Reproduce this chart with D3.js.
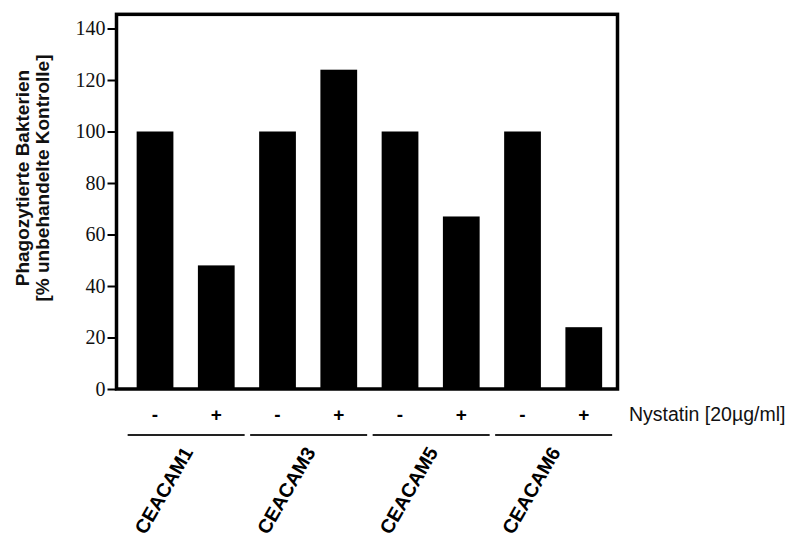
<!DOCTYPE html>
<html>
<head>
<meta charset="utf-8">
<script src="https://cdn.jsdelivr.net/npm/d3@7"></script>
<style>
  body { margin: 0; background: #fff; }
  svg { display: block; }
</style>
</head>
<body>
<div id="chart"></div>
<script>
// data
const groups = ["CEACAM1", "CEACAM3", "CEACAM5", "CEACAM6"];
const treatments = ["-", "+"];
const values = [100, 48, 100, 124, 100, 67, 100, 24];
const yTicks = [0, 20, 40, 60, 80, 100, 120, 140];
const treatmentLabel = "Nystatin [20µg/ml]";
const yLabelLines = ["Phagozytierte Bakterien", "[% unbehandelte Kontrolle]"];

const W = 792, H = 539;
const SANS = "'Liberation Sans', Arial, sans-serif";
const SERIF = "'Liberation Serif', 'Times New Roman', serif";

const bars = [];
groups.forEach((g, gi) => {
  treatments.forEach((t, ti) => {
    bars.push({ key: g + t, group: g, treat: t, value: values[gi * 2 + ti] });
  });
});

const svg = d3.select("#chart").append("svg")
  .attr("width", W)
  .attr("height", H);

const x = d3.scaleBand()
  .domain(bars.map(d => d.key))
  .range([124.4, 614.4])
  .paddingInner(0.4)
  .paddingOuter(0.2);

const y = d3.scaleLinear()
  .domain([0, 140])
  .range([389, 28.5]);

const frameLeft = 116.5, frameRight = 617.5;
const frameTop = y(145.5);

// bars
svg.append("g")
  .selectAll("rect")
  .data(bars)
  .join("rect")
  .attr("x", d => x(d.key))
  .attr("y", d => y(d.value))
  .attr("width", x.bandwidth())
  .attr("height", d => y(0) - y(d.value))
  .attr("fill", "#000");

// frame
svg.append("rect")
  .attr("x", frameLeft)
  .attr("y", frameTop)
  .attr("width", frameRight - frameLeft)
  .attr("height", y(0) - frameTop)
  .attr("fill", "none")
  .attr("stroke", "#000")
  .attr("stroke-width", 3.5);

// y axis
const yAxis = svg.append("g")
  .attr("transform", `translate(${frameLeft},0)`)
  .call(d3.axisLeft(y).tickValues(yTicks).tickSize(9).tickPadding(2).tickSizeOuter(0));
yAxis.select(".domain").remove();
yAxis.selectAll(".tick line").attr("stroke", "#000").attr("stroke-width", 2);
yAxis.selectAll(".tick text")
  .attr("font-family", SERIF)
  .attr("font-size", 20)
  .attr("fill", "#111");

// - / + row
svg.append("g")
  .selectAll("text")
  .data(bars)
  .join("text")
  .attr("x", d => x(d.key) + x.bandwidth() / 2)
  .attr("y", 421)
  .attr("text-anchor", "middle")
  .attr("font-family", SANS)
  .attr("font-weight", "bold")
  .attr("font-size", 19)
  .text(d => d.treat);

svg.append("text")
  .attr("x", 629)
  .attr("y", 421)
  .attr("font-family", SANS)
  .attr("font-size", 19.5)
  .attr("fill", "#111")
  .text(treatmentLabel);

// group lines and labels
const grp = svg.append("g")
  .selectAll("g")
  .data(groups)
  .join("g");

grp.append("line")
  .attr("x1", g => x(g + "-") - 9)
  .attr("x2", g => x(g + "+") + x.bandwidth() + 10)
  .attr("y1", 435)
  .attr("y2", 435)
  .attr("stroke", "#222")
  .attr("stroke-width", 2);

grp.append("text")
  .attr("transform", g => {
    const cx = (x(g + "-") + x(g + "+") + x.bandwidth()) / 2;
    return `translate(${cx + 8},452) rotate(-60)`;
  })
  .attr("text-anchor", "end")
  .attr("font-family", SANS)
  .attr("font-weight", "bold")
  .attr("font-size", 19.5)
  .text(g => g);

// y label
svg.append("text")
  .attr("transform", "translate(0,178) rotate(-90)")
  .attr("text-anchor", "middle")
  .attr("font-family", SANS)
  .attr("font-weight", "bold")
  .attr("font-size", 19)
  .attr("fill", "#111")
  .selectAll("tspan")
  .data(yLabelLines)
  .join("tspan")
  .attr("x", 0)
  .attr("y", (d, i) => 29 + i * 20)
  .text(d => d);
</script>
</body>
</html>
